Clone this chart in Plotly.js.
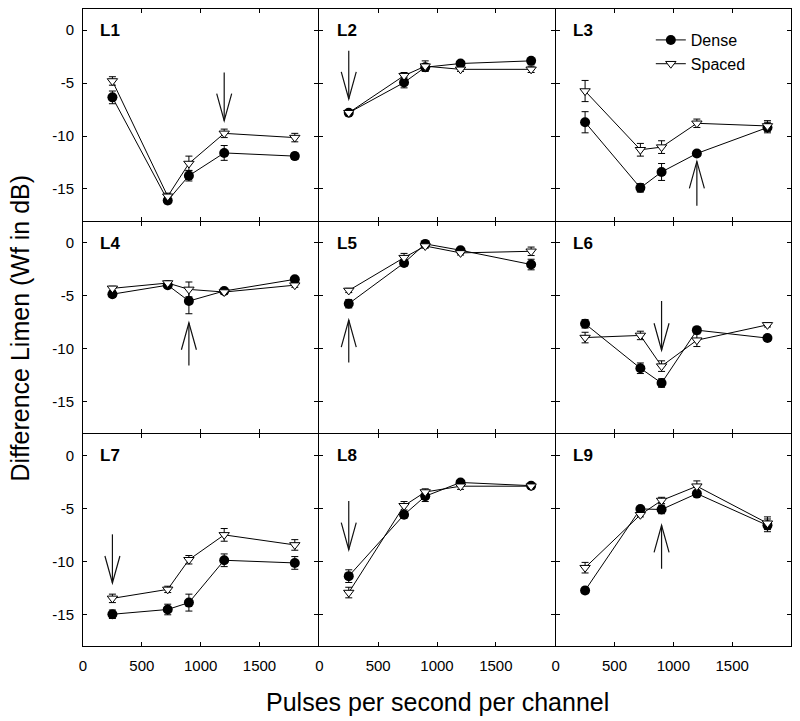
<!DOCTYPE html>
<html>
<head>
<meta charset="utf-8">
<script src="https://cdn.plot.ly/plotly-3.0.1.min.js"></script>
<style>html,body{margin:0;padding:0;background:#fff;}#chart{width:800px;height:721px;}</style>
</head>
<body>
<div id="chart"></div>
<script>
// ---- data ----
const pulseRates = [250, 720, 900, 1200, 1800];
const panelNames = ['L1', 'L2', 'L3', 'L4', 'L5', 'L6', 'L7', 'L8', 'L9'];
const seriesNames = ['Dense', 'Spaced'];
const xTickVals = [0, 500, 1000, 1500];
const yTickVals = [0, -5, -10, -15];

const denseL1 = [-6.35, -16.1, -13.75, -11.6, -11.9];
const denseErrL1 = [0.6, 0.3, 0.5, 0.7, 0.3];
const spacedL1 = [-4.8, -15.7, -12.6, -9.75, -10.15];
const spacedErrL1 = [0.4, 0.3, 0.7, 0.4, 0.4];

const denseL2 = [-7.8, -4.95, -3.5, -3.15, -2.9];
const denseErrL2 = [0.2, 0.5, 0.3, 0.2, 0.2];
const spacedL2 = [-7.8, -4.3, -3.4, -3.7, -3.7];
const spacedErrL2 = [0.2, 0.3, 0.5, 0.2, 0.3];

const denseL3 = [-8.7, -14.9, -13.4, -11.65, -9.2];
const denseErrL3 = [1.0, 0.4, 0.8, 0.25, 0.5];
const spacedL3 = [-5.75, -11.3, -11.05, -8.8, -9.05];
const spacedErrL3 = [1.0, 0.6, 0.6, 0.4, 0.5];

const denseL4 = [-4.85, -4.0, -5.5, -4.55, -3.45];
const denseErrL4 = [0.3, 0.2, 1.2, 0.2, 0.2];
const spacedL4 = [-4.3, -3.8, -4.4, -4.65, -4.0];
const spacedErrL4 = [0.2, 0.2, 0.7, 0.2, 0.2];

const denseL5 = [-5.75, -1.9, -0.1, -0.7, -2.05];
const denseErrL5 = [0.4, 0.3, 0.2, 0.2, 0.5];
const spacedL5 = [-4.5, -1.4, -0.3, -0.95, -0.8];
const spacedErrL5 = [0.2, 0.4, 0.2, 0.2, 0.4];

const denseL6 = [-7.65, -11.85, -13.25, -8.25, -9.0];
const denseErrL6 = [0.4, 0.5, 0.4, 0.2, 0.2];
const spacedL6 = [-8.95, -8.75, -11.65, -9.2, -7.75];
const spacedErrL6 = [0.5, 0.4, 0.5, 0.6, 0.2];

const denseL7 = [-15.0, -14.55, -13.9, -9.9, -10.15];
const denseErrL7 = [0.4, 0.5, 0.8, 0.6, 0.6];
const spacedL7 = [-13.5, -12.65, -9.85, -7.5, -8.45];
const spacedErrL7 = [0.4, 0.3, 0.4, 0.6, 0.5];

const denseL8 = [-11.4, -5.6, -3.85, -2.55, -2.85];
const denseErrL8 = [0.6, 0.3, 0.5, 0.2, 0.2];
const spacedL8 = [-12.95, -4.75, -3.45, -2.9, -2.9];
const spacedErrL8 = [0.5, 0.4, 0.3, 0.3, 0.2];

const denseL9 = [-12.75, -5.05, -5.1, -3.6, -6.6];
const denseErrL9 = [0.3, 0.2, 0.4, 0.2, 0.6];
const spacedL9 = [-10.6, -5.6, -4.25, -2.9, -6.4];
const spacedErrL9 = [0.5, 0.2, 0.3, 0.5, 0.6];

// arrows: one per panel (x position, tail y, tip y)
const arrowX = [1200, 250, 1200, 900, 250, 900, 250, 250, 900];
const arrowTail = [-4.0, -1.95, -16.6, -11.6, -11.3, -5.5, -7.45, -4.3, -10.7];
const arrowTip = [-8.55, -6.5, -12.4, -7.55, -7.3, -10.15, -12.05, -8.9, -6.6];

// ---- build ----
const denseAll = [denseL1, denseL2, denseL3, denseL4, denseL5, denseL6, denseL7, denseL8, denseL9];
const denseErrAll = [denseErrL1, denseErrL2, denseErrL3, denseErrL4, denseErrL5, denseErrL6, denseErrL7, denseErrL8, denseErrL9];
const spacedAll = [spacedL1, spacedL2, spacedL3, spacedL4, spacedL5, spacedL6, spacedL7, spacedL8, spacedL9];
const spacedErrAll = [spacedErrL1, spacedErrL2, spacedErrL3, spacedErrL4, spacedErrL5, spacedErrL6, spacedErrL7, spacedErrL8, spacedErrL9];

const W = 800, H = 721;
const M = {l: 83, r: 9, t: 9, b: 75};
const xRange = [0, 2000], yRange = [-18, 2];
const plotW = W - M.l - M.r, plotH = H - M.t - M.b;
const gapX = 1 / plotW, gapY = 1 / plotH;           // 1px gap so shared borders coincide
const cellW = (1 - 2 * gapX) / 3, cellH = (1 - 2 * gapY) / 3;
const panelW = cellW * plotW, panelH = cellH * plotH;
const FONT = 'Liberation Sans, Arial, sans-serif';

const traces = [];
const layout = {
  width: W, height: H,
  margin: M,
  paper_bgcolor: '#fff', plot_bgcolor: '#fff',
  font: {family: FONT, color: '#000', size: 15},
  showlegend: true,
  legend: {
    x: 0.802, y: 0.978, xanchor: 'left', yanchor: 'top',
    bgcolor: 'rgba(0,0,0,0)', borderwidth: 0,
    font: {family: FONT, size: 16, color: '#000'},
    tracegroupgap: 0, itemwidth: 30
  },
  shapes: [], annotations: []
};

panelNames.forEach((name, i) => {
  const r = Math.floor(i / 3), c = i % 3;
  const sfx = i === 0 ? '' : String(i + 1);
  const xa = 'x' + sfx, ya = 'y' + sfx;
  const axCommon = {
    showgrid: false, zeroline: false, showline: true, linecolor: '#000', linewidth: 1,
    mirror: 'ticks', ticks: 'inside', ticklen: 4, tickwidth: 1, tickcolor: '#000',
    tickfont: {family: FONT, size: 15, color: '#000'}, fixedrange: true
  };
  const x0 = c * (cellW + gapX);
  const yTop = 1 - r * (cellH + gapY);
  layout['xaxis' + sfx] = Object.assign({}, axCommon, {
    domain: [x0, Math.min(1, x0 + cellW)], range: xRange, anchor: ya,
    tickmode: 'array', tickvals: xTickVals, ticktext: xTickVals.map(String),
    showticklabels: r === 2, ticklabelstandoff: 6
  });
  layout['yaxis' + sfx] = Object.assign({}, axCommon, {
    domain: [Math.max(0, yTop - cellH), yTop], range: yRange, anchor: xa,
    tickmode: 'array', tickvals: yTickVals, ticktext: yTickVals.map(String),
    showticklabels: c === 0, ticklabelstandoff: 5
  });

  traces.push({
    type: 'scatter', mode: 'lines+markers', x: pulseRates, y: denseAll[i],
    xaxis: xa, yaxis: ya, name: seriesNames[0], legendgroup: 'd', showlegend: i === 0,
    line: {color: '#000', width: 1},
    marker: {symbol: 'circle', size: 10, color: '#000', line: {color: '#000', width: 0}},
    error_y: {type: 'data', array: denseErrAll[i], visible: true, color: '#000', thickness: 1, width: 3.5}
  });
  traces.push({
    type: 'scatter', mode: 'lines+markers', x: pulseRates, y: spacedAll[i],
    xaxis: xa, yaxis: ya, name: seriesNames[1], legendgroup: 's', showlegend: i === 0,
    line: {color: '#000', width: 1},
    marker: {symbol: 'triangle-down', size: 9, color: '#fff', line: {color: '#000', width: 1}},
    error_y: {type: 'data', array: spacedErrAll[i], visible: true, color: '#000', thickness: 1, width: 3.5}
  });

  // panel label
  layout.annotations.push({
    text: '<b>' + name + '</b>', xref: xa + ' domain', yref: ya + ' domain',
    x: 0.065, y: 0.898, xanchor: 'left', yanchor: 'middle', showarrow: false,
    font: {family: FONT, size: 17, color: '#000'}
  });

  // arrow (open V head)
  const ax = arrowX[i], tail = arrowTail[i], tip = arrowTip[i];
  const dir = Math.sign(tail - tip);
  const headHalfW = 7.5 * (xRange[1] - xRange[0]) / panelW;
  const headLen = 27 * (yRange[1] - yRange[0]) / panelH;
  layout.shapes.push({
    type: 'line', xref: xa, yref: ya, x0: ax, x1: ax, y0: tail, y1: tip,
    line: {color: '#111', width: 1.2}
  });
  layout.shapes.push({
    type: 'path', xref: xa, yref: ya,
    path: 'M' + (ax - headHalfW) + ',' + (tip + dir * headLen) + ' L' + ax + ',' + tip +
          ' L' + (ax + headHalfW) + ',' + (tip + dir * headLen),
    line: {color: '#111', width: 1.2}
  });
});

// axis titles
layout.annotations.push({
  text: 'Pulses per second per channel', xref: 'paper', yref: 'paper',
  x: 0.5, y: -0.088, xanchor: 'center', yanchor: 'middle', showarrow: false,
  font: {family: FONT, size: 25, color: '#000'}
});
layout.annotations.push({
  text: 'Difference Limen (Wf in dB)', xref: 'paper', yref: 'paper',
  x: -0.089, y: 0.5, xanchor: 'center', yanchor: 'middle', textangle: -90, showarrow: false,
  font: {family: FONT, size: 25, color: '#000'}
});

Plotly.newPlot('chart', traces, layout, {staticPlot: true, displayModeBar: false});
</script>
</body>
</html>
